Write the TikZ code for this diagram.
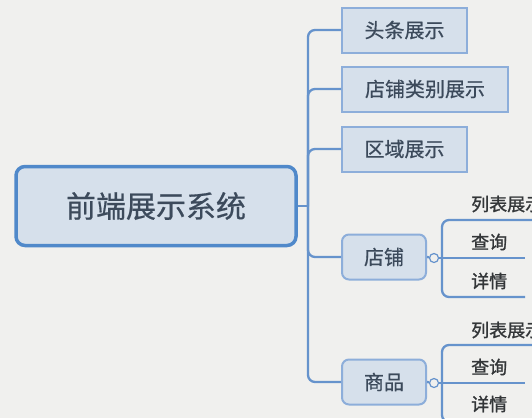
\documentclass[tikz,border=0pt]{standalone}
\usepackage{fontspec}
\newfontfamily\cjk[FakeBold=0.6]{Noto Sans CJK SC}
\newfontfamily\cjkb[FakeBold=1.2]{Noto Sans CJK SC}
\definecolor{bg}{HTML}{F0F0EE}
\definecolor{rootblue}{HTML}{5089CA}
\definecolor{boxblue}{HTML}{8DAEDA}
\definecolor{boxfill}{HTML}{D6E0EB}
\definecolor{linkblue}{HTML}{6693CC}
\definecolor{txt}{HTML}{3C4A5B}
\definecolor{subtxt}{HTML}{333638}
\tikzset{
  rootbox/.style={draw=rootblue, fill=boxfill, line width=3.5pt, rounded corners=9pt,
    minimum width=280pt, minimum height=79pt, inner sep=0pt,
    font=\cjk\fontsize{30}{33}\selectfont, text=txt},
  topbox/.style={draw=boxblue, fill=boxfill, line width=2pt,
    minimum height=45pt, inner sep=0pt,
    font=\cjk\fontsize{20}{23}\selectfont, text=txt},
  midbox/.style={draw=boxblue, fill=boxfill, line width=2pt, rounded corners=7pt,
    minimum width=84pt, minimum height=45pt, inner sep=0pt,
    font=\cjk\fontsize{20}{23}\selectfont, text=txt},
  sublabel/.style={anchor=west, inner sep=0pt, font=\cjkb\fontsize{18}{21}\selectfont, text=subtxt},
  link/.style={draw=linkblue, line width=2.3pt, rounded corners=7pt},
  underline/.style={draw=linkblue, line width=2.8pt},
  knob/.style={circle, draw=linkblue, fill=bg, line width=1.2pt, minimum size=9pt, inner sep=0pt}
}
\begin{document}
\begin{tikzpicture}[x=1pt,y=-1pt]
\useasboundingbox (0,0) rectangle (532,418);
\fill[bg] (0,0) rectangle (532,418);
\clip (0,0) rectangle (532,418);
% nodes
\node[rootbox] (root) at (156,206) {前端展示系统};
\node[topbox, minimum width=125pt] (t1) at (404.5,30) {头条展示};
\node[topbox, minimum width=166pt] (t2) at (425,89) {店铺类别展示};
\node[topbox, minimum width=125pt] (t3) at (404.5,149) {区域展示};
\node[midbox] (shop) at (384,257) {店铺};
\node[midbox] (goods) at (384,382) {商品};
\coordinate (trunk) at (308,206);
% main connectors
\draw[link] (root.east) -- (trunk);
\draw[link] (trunk) |- (t1.west);
\draw[link] (trunk) |- (t2.west);
\draw[link] (trunk) |- (t3.west);
\draw[link] (trunk) |- (shop.west);
\draw[link] (trunk) |- (goods.west);
% shop sub-branches
\node[knob] (k1) at (434,258) {};
\coordinate (s1) at (442,258);
\coordinate (s1a) at (540,220);
\coordinate (s1b) at (525,258);
\coordinate (s1c) at (525,297);
\draw[link] (shop.east) -- (k1);
\draw[link] (k1) -- (s1);
\draw[link] (s1) |- (s1a);
\draw[link] (s1) |- (s1c);
\draw[underline] (s1) -- (s1b);
\draw[underline] (448,220) -- (s1a);
\draw[underline] (448,297) -- (s1c);
\node[sublabel] (l1a) at (471,204) {列表展示};
\node[sublabel] (l1b) at (471,242) {查询};
\node[sublabel] (l1c) at (471,281) {详情};
% goods sub-branches
\node[knob] (k2) at (434,383) {};
\coordinate (s2) at (442,383);
\coordinate (s2a) at (540,345);
\coordinate (s2b) at (525,383);
\coordinate (s2c) at (525,422);
\draw[link] (goods.east) -- (k2);
\draw[link] (k2) -- (s2);
\draw[link] (s2) |- (s2a);
\draw[link] (s2) |- (s2c);
\draw[underline] (s2) -- (s2b);
\draw[underline] (448,345) -- (s2a);
\node[sublabel] (l2a) at (471,330) {列表展示};
\node[sublabel] (l2b) at (471,367) {查询};
\node[sublabel] (l2c) at (471,404) {详情};
\end{tikzpicture}
\end{document}
